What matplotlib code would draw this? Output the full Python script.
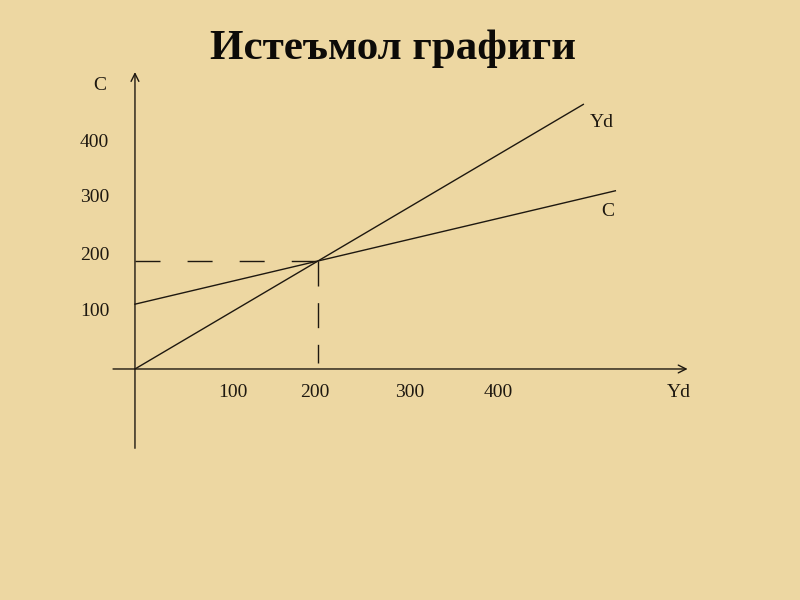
import matplotlib
matplotlib.use("Agg")
import matplotlib.pyplot as plt
import numpy as np

# consumption function C = a + b*Yd, and the 45-degree line Yd
YD_END = 490
C_A, C_B = 120, 0.4
C_END = 525
EQ_X, EQ_Y = 200, 200

X_TICKS = [100, 200, 300, 400]
X_TICK_POS = [107, 197, 300, 397]
Y_TICKS = [100, 200, 300, 400]
Y_TICK_POS = [106, 211, 317, 420]

INK = "#1e1810"
BG = "#edd7a2"

plt.rcParams["font.family"] = ["Liberation Serif", "DejaVu Serif"]

fig = plt.figure(figsize=(8, 6), dpi=100, facecolor=BG)
ax = fig.add_axes([0, 0, 1, 1])
ax.set_facecolor(BG)
ax.set_xlim(-147.5, 726.8)
ax.set_ylim(-427.8, 683.3)
ax.axis("off")

# axes with open arrowheads
ax.annotate("", xy=(607, 0), xytext=(-27, 0),
            arrowprops=dict(arrowstyle="->", lw=1, color=INK, mutation_scale=14))
ax.annotate("", xy=(0, 555), xytext=(0, -152),
            arrowprops=dict(arrowstyle="->", lw=1, color=INK, mutation_scale=14))

# lines
yd = np.array([0, YD_END])
ax.plot(yd, yd, color=INK, lw=1)
cx = np.array([0, C_END])
ax.plot(cx, C_A + C_B * cx, color=INK, lw=1)

# equilibrium guides
ax.plot([0, EQ_X], [EQ_Y, EQ_Y], color=INK, lw=1, ls=(0, (18, 19.5)))
ax.plot([EQ_X, EQ_X], [EQ_Y, 11], color=INK, lw=1, ls=(0, (18, 12)))

# tick labels
for v, p in zip(X_TICKS, X_TICK_POS):
    ax.text(p, -44, str(v), ha="center", va="center", fontsize=14, color=INK)
for v, p in zip(Y_TICKS, Y_TICK_POS):
    ax.text(-44, p, str(v), ha="center", va="center", fontsize=14, color=INK)

# axis and line labels
ax.text(-39, 525, "C", ha="center", va="center", fontsize=14, color=INK)
ax.text(594, -44, "Yd", ha="center", va="center", fontsize=14, color=INK)
ax.text(510, 457, "Yd", ha="center", va="center", fontsize=14, color=INK)
ax.text(517, 292, "C", ha="center", va="center", fontsize=14, color=INK)

fig.text(393 / 800, 1 - 49 / 600, "Истеъмол графиги", ha="center", va="center",
         fontsize=31, fontweight="bold", color="#0d0b08")

fig.savefig("out.png", dpi=100, facecolor=BG)
